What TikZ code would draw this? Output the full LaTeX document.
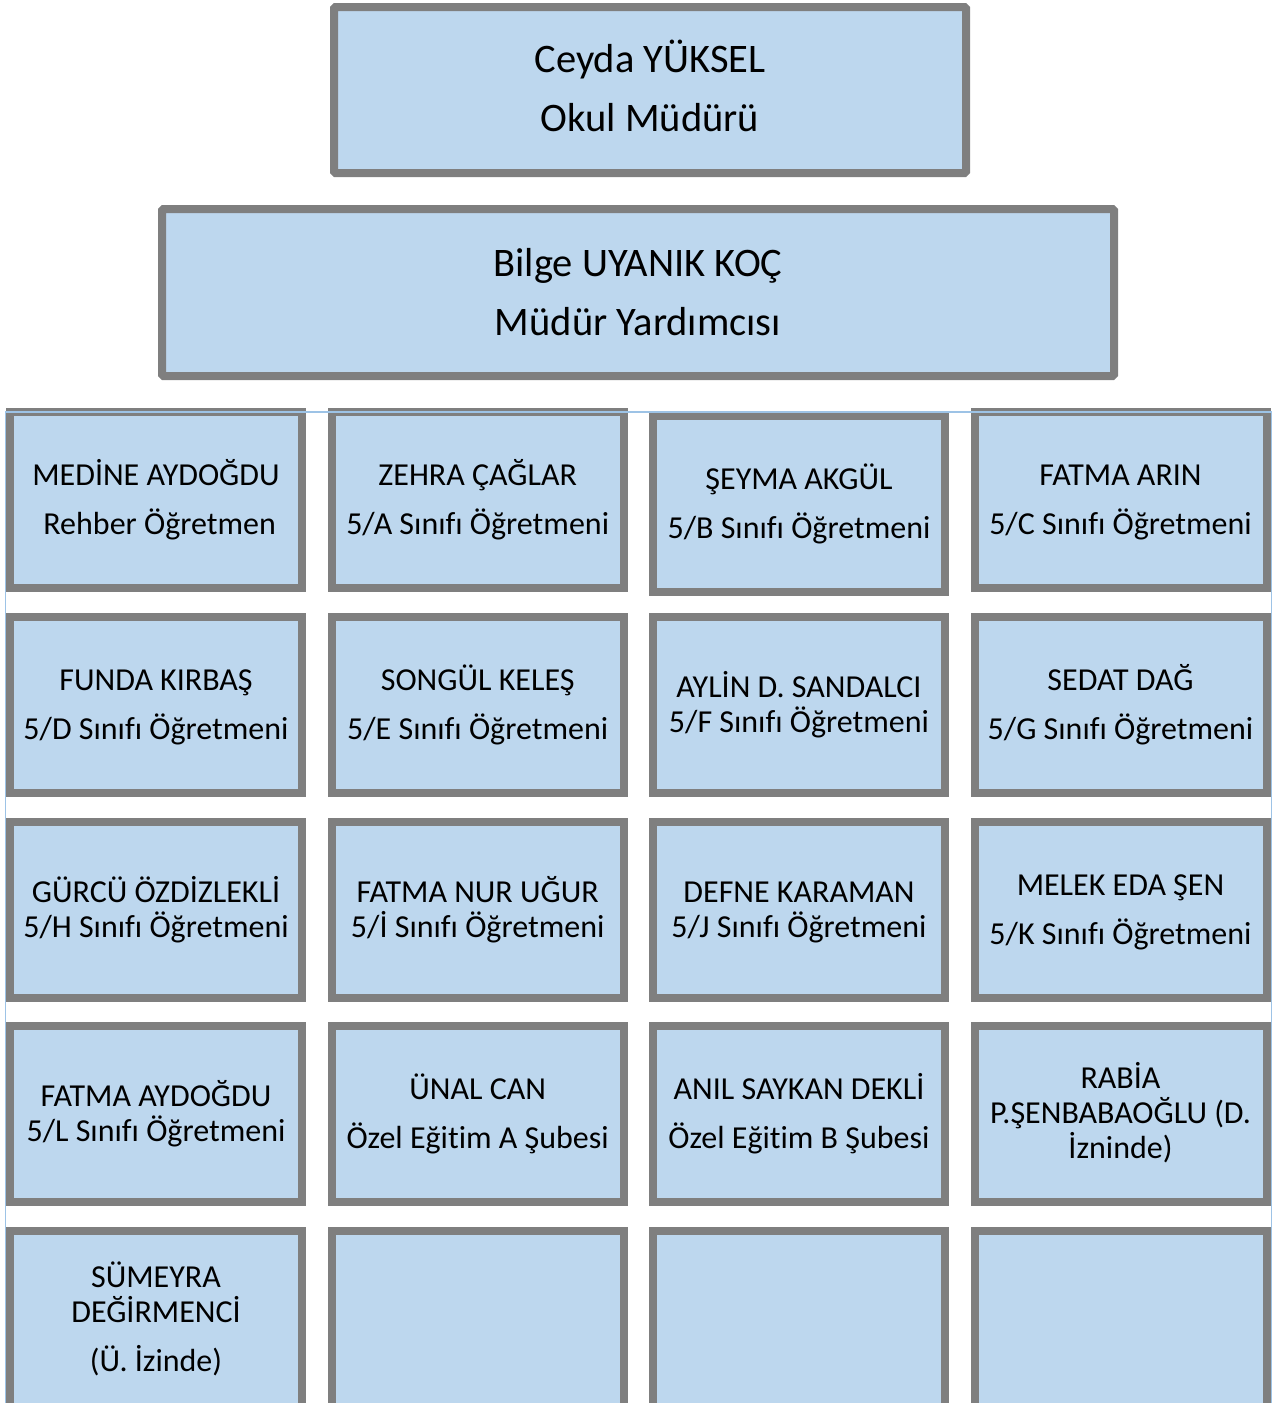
\documentclass[tikz,border=0pt]{standalone}
\usepackage{fontspec}
\setmainfont{Carlito}[Ligatures=NoCommon]
\definecolor{boxfill}{HTML}{BDD7EE}
\definecolor{boxline}{HTML}{7F7F7F}
\definecolor{gridline}{HTML}{9DC3E6}
\newcommand{\topstrut}{\rule{0pt}{28pt}}
\newcommand{\botstrut}{\rule[-8pt]{0pt}{8pt}}
\newcommand{\headstrut}{\rule[-8pt]{0pt}{8pt}}
\begin{document}
\begin{tikzpicture}[x=1pt,y=-1pt,
  headbox/.style={draw=boxline, fill=boxfill, line width=8pt, rounded corners=1.5pt, inner sep=0pt, outer sep=0pt, align=center, font=\fontsize{40.5}{59}\selectfont},
  cellbox/.style={draw=boxline, fill=boxfill, line width=8pt, inner sep=0pt, outer sep=0pt, minimum width=292pt, minimum height=176pt, align=center, font=\fontsize{32}{35}\selectfont}]
\useasboundingbox (0,0) rectangle (1281,1403);
% heads
\node[headbox, minimum width=632pt, minimum height=166pt] (mudur) at (650,90) {Ceyda YÜKSEL\\Okul Müdürü\headstrut};
\node[headbox, minimum width=952pt, minimum height=167pt] (yard) at (638,292.5) {Bilge UYANIK KOÇ\\Müdür Yardımcısı};
% row 1
\node[cellbox] (r1c1) at (156,500) {\topstrut MEDİNE AYDOĞDU\\[14pt]\ Rehber Öğretmen\botstrut};
\node[cellbox] (r1c2) at (477.7,500) {\topstrut ZEHRA ÇAĞLAR\\[14pt]5/A Sınıfı Öğretmeni\botstrut};
\node[cellbox] (r1c3) at (799,503.8) {\topstrut ŞEYMA AKGÜL\\[14pt]5/B Sınıfı Öğretmeni\botstrut};
\node[cellbox] (r1c4) at (1120.5,500) {\topstrut FATMA ARIN\\[14pt]5/C Sınıfı Öğretmeni\botstrut};
% row 2
\node[cellbox] (r2c1) at (156,705) {\topstrut FUNDA KIRBAŞ\\[14pt]5/D Sınıfı Öğretmeni\botstrut};
\node[cellbox] (r2c2) at (477.7,705) {\topstrut SONGÜL KELEŞ\\[14pt]5/E Sınıfı Öğretmeni\botstrut};
\node[cellbox] (r2c3) at (799,705) {\topstrut AYLİN D. SANDALCI\\5/F Sınıfı Öğretmeni\botstrut};
\node[cellbox] (r2c4) at (1120.5,705) {\topstrut SEDAT DAĞ\\[14pt]5/G Sınıfı Öğretmeni\botstrut};
% row 3
\node[cellbox] (r3c1) at (156,909.5) {\topstrut GÜRCÜ ÖZDİZLEKLİ\\5/H Sınıfı Öğretmeni\botstrut};
\node[cellbox] (r3c2) at (477.7,909.5) {\topstrut FATMA NUR UĞUR\\5/İ Sınıfı Öğretmeni\botstrut};
\node[cellbox] (r3c3) at (799,909.5) {\topstrut DEFNE KARAMAN\\5/J Sınıfı Öğretmeni\botstrut};
\node[cellbox] (r3c4) at (1120.5,909.5) {\topstrut MELEK EDA ŞEN\\[14pt]5/K Sınıfı Öğretmeni\botstrut};
% row 4
\node[cellbox] (r4c1) at (156,1113.5) {\topstrut FATMA AYDOĞDU\\5/L Sınıfı Öğretmeni\botstrut};
\node[cellbox] (r4c2) at (477.7,1113.5) {\topstrut ÜNAL CAN\\[14pt]Özel Eğitim A Şubesi\botstrut};
\node[cellbox] (r4c3) at (799,1113.5) {\topstrut ANIL SAYKAN DEKLİ\\[14pt]Özel Eğitim B Şubesi\botstrut};
\node[cellbox] (r4c4) at (1120.5,1113.5) {\topstrut RABİA\\P.ŞENBABAOĞLU (D.\\İzninde)\botstrut};
% row 5
\node[cellbox] (r5c1) at (156,1319) {\topstrut SÜMEYRA\\DEĞİRMENCİ\\[14pt](Ü. İzinde)\botstrut};
\node[cellbox] (r5c2) at (477.7,1319) {};
\node[cellbox] (r5c3) at (799,1319) {};
\node[cellbox] (r5c4) at (1120.5,1319) {};
% thin table frame
\coordinate (fl) at (5.5,1403);
\coordinate (ftl) at (5.5,412);
\coordinate (ftr) at (1271.5,412);
\coordinate (fr) at (1271.5,1403);
\draw[gridline, line width=1.5pt] (fl) -- (ftl) -- (ftr) -- (fr);
\end{tikzpicture}
\end{document}
